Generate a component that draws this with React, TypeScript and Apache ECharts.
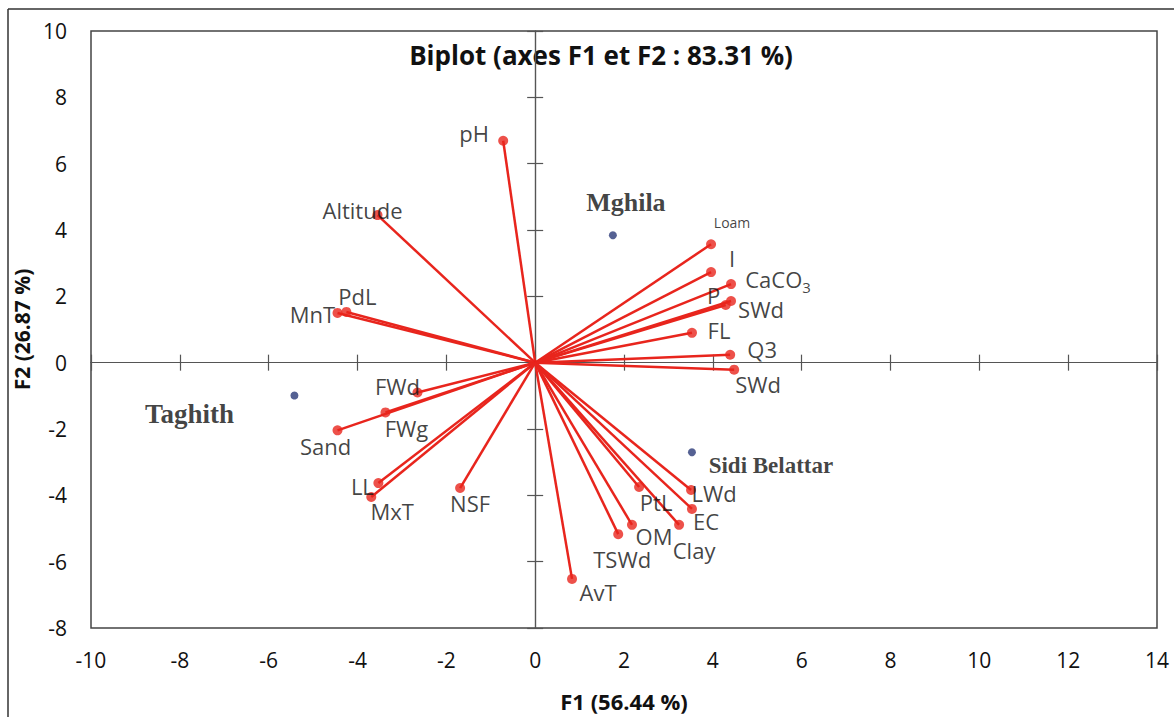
import React, { useEffect, useRef } from "react";
import * as echarts from "echarts";

// ---- data ----
const variableNames = [
  "pH", "Altitude", "MnT", "PdL", "FWd", "FWg", "Sand", "LL", "MxT", "NSF",
  "Loam", "I", "CaCO3", "P", "SWd", "FL", "Q3", "SWd",
  "LWd", "PtL", "EC", "Clay", "OM", "TSWd", "AvT",
];
const variableF1 = [
  -0.72, -3.55, -4.45, -4.25, -2.65, -3.37, -4.45, -3.53, -3.69, -1.69,
  3.96, 3.96, 4.41, 4.29, 4.41, 3.53, 4.39, 4.48,
  3.51, 2.34, 3.53, 3.24, 2.18, 1.87, 0.83,
];
const variableF2 = [
  6.69, 4.45, 1.5, 1.53, -0.9, -1.5, -2.04, -3.63, -4.05, -3.78,
  3.57, 2.73, 2.37, 1.74, 1.86, 0.9, 0.24, -0.21,
  -3.84, -3.75, -4.41, -4.89, -4.89, -5.17, -6.52,
];
const siteNames = ["Mghila", "Taghith", "Sidi Belattar"];
const siteF1 = [1.75, -5.42, 3.53];
const siteF2 = [3.84, -0.99, -2.7];

const xTicks = { min: -10, max: 14, interval: 2 };
const yTicks = { min: -8, max: 10, interval: 2 };

// ---- label layout (pixel offsets of label centres from their dots) ----
const variableLabelOffsets: number[][] = [
  [-29, -8], [-15, -5], [-25, 1], [11, -16], [-20, -7], [21, 16], [-12, 16], [-16, 3], [21, 14], [10, 15],
  [21, -22], [21, -14], [47, -5], [-12, -10], [30, 8], [27, -3], [32, -6], [24, 14],
  [23, 3], [17, 15], [14, 12], [15, 25], [22, 11], [4, 25], [26, 13],
];
const siteLabelOffsets: number[][] = [[13, -33], [-105, 18], [79, 13]];
const siteLabelSizes = [26, 27, 23];

const RED = "#e8251d";
const INK = "#111111";
const SANS = "'Open Sans', sans-serif";
const SERIF = "'Liberation Serif', 'Times New Roman', serif";

export default function App() {
  const ref = useRef<HTMLDivElement>(null);
  useEffect(() => {
    if (!ref.current) return;
    const chart = echarts.init(ref.current, undefined, { renderer: "svg" });

    const lineData = variableNames.map((n, i) => ({
      name: n,
      coords: [[0, 0], [variableF1[i], variableF2[i]]],
    }));

    const varPoints = variableNames.map((n, i) => {
      const isCa = n === "CaCO3";
      const isLoam = n === "Loam";
      return {
        name: n,
        value: [variableF1[i], variableF2[i]],
        label: {
          show: true,
          position: "inside",
          offset: variableLabelOffsets[i],
          align: "center",
          verticalAlign: "middle",
          fontFamily: SANS,
          fontSize: isLoam ? 14 : 22,
          color: INK,
          formatter: isCa ? "{a|CaCO}{s|3}" : n,
          rich: isCa
            ? {
                a: { fontFamily: SANS, fontSize: 22, color: INK },
                s: { fontFamily: SANS, fontSize: 15, color: INK, padding: [16, 0, 0, 0] },
              }
            : undefined,
        },
      };
    });

    const sitePoints = siteNames.map((n, i) => ({
      name: n,
      value: [siteF1[i], siteF2[i]],
      label: {
        show: true,
        position: "inside",
        offset: siteLabelOffsets[i],
        align: "center",
        verticalAlign: "middle",
        fontFamily: SERIF,
        fontWeight: "bold",
        fontSize: siteLabelSizes[i],
        color: INK,
        formatter: n,
      },
    }));

    const zeroAxisBase = {
      type: "value",
      axisLabel: { show: false },
      splitLine: { show: false },
      axisLine: { show: true, onZero: true, lineStyle: { color: "#555", width: 1.2 } },
    };

    const xBase = { min: xTicks.min, max: xTicks.max, interval: xTicks.interval };
    const yBase = { min: yTicks.min, max: yTicks.max, interval: yTicks.interval };

    chart.setOption({
      animation: false,
      backgroundColor: "#ffffff",
      grid: {
        left: 91,
        right: 17,
        top: 31,
        bottom: 87,
        show: true,
        borderColor: "#444",
        borderWidth: 1.5,
        backgroundColor: "transparent",
      },
      graphic: [
        { type: "line", shape: { x1: 8, y1: 9, x2: 1174, y2: 9 }, style: { stroke: "#333", lineWidth: 1.5 } },
        { type: "line", shape: { x1: 8, y1: 9, x2: 8, y2: 717 }, style: { stroke: "#333", lineWidth: 1.5 } },
        {
          type: "text",
          x: 601,
          y: 55,
          style: {
            text: "Biplot (axes F1 et F2 : 83.31 %)",
            fontFamily: SANS,
            fontWeight: "bold",
            fontSize: 26,
            fill: INK,
            textAlign: "center",
            textVerticalAlign: "middle",
          },
        },
      ],
      xAxis: [
        {
          type: "value",
          ...xBase,
          position: "bottom",
          axisLine: { show: false, onZero: false },
          axisTick: { show: false },
          splitLine: { show: false },
          axisLabel: { fontFamily: SANS, fontSize: 21, color: INK, margin: 21 },
          name: "F1 (56.44 %)",
          nameLocation: "middle",
          nameGap: 62,
          nameTextStyle: { fontFamily: SANS, fontSize: 22, fontWeight: "bold", color: INK },
        },
        {
          ...zeroAxisBase,
          ...xBase,
          axisTick: { show: true, inside: true, length: 8, lineStyle: { color: "#555", width: 1.2 } },
        },
        {
          ...zeroAxisBase,
          ...xBase,
          axisTick: { show: true, inside: false, length: 8, lineStyle: { color: "#555", width: 1.2 } },
        },
      ],
      yAxis: [
        {
          type: "value",
          ...yBase,
          position: "left",
          axisLine: { show: false, onZero: false },
          axisTick: { show: false },
          splitLine: { show: false },
          axisLabel: { fontFamily: SANS, fontSize: 21, color: INK, margin: 24 },
          name: "F2 (26.87 %)",
          nameLocation: "middle",
          nameGap: 32,
          nameRotate: 90,
          nameTextStyle: { fontFamily: SANS, fontSize: 21, fontWeight: "bold", color: INK },
        },
        {
          ...zeroAxisBase,
          ...yBase,
          axisTick: { show: true, inside: true, length: 8, lineStyle: { color: "#555", width: 1.2 } },
        },
        {
          ...zeroAxisBase,
          ...yBase,
          axisTick: { show: true, inside: false, length: 8, lineStyle: { color: "#555", width: 1.2 } },
        },
      ],
      series: [
        {
          type: "lines",
          coordinateSystem: "cartesian2d",
          xAxisIndex: 0,
          yAxisIndex: 0,
          polyline: false,
          lineStyle: { color: RED, width: 2.5, opacity: 1 },
          data: lineData,
          silent: true,
          z: 3,
        },
        {
          type: "scatter",
          xAxisIndex: 0,
          yAxisIndex: 0,
          symbolSize: 10,
          itemStyle: { color: RED },
          data: varPoints,
          z: 4,
        },
        {
          type: "scatter",
          xAxisIndex: 0,
          yAxisIndex: 0,
          symbolSize: 8,
          itemStyle: { color: "#2b3a78" },
          data: sitePoints,
          z: 4,
        },
      ],
    });
    return () => chart.dispose();
  }, []);

  return (
    <div
      ref={ref}
      style={{ position: "fixed", left: 0, top: 0, width: 1174, height: 717, background: "#fff" }}
    />
  );
}
